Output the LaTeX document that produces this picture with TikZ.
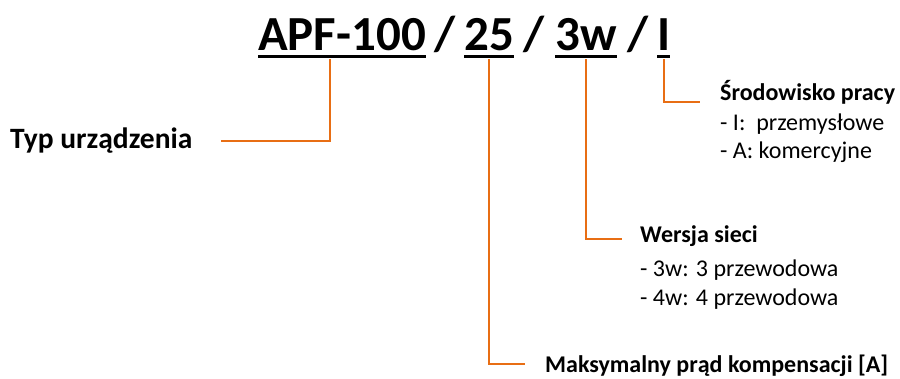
\documentclass[tikz,border=0pt]{standalone}
\usepackage{fontspec}
\setmainfont{Carlito}
\usetikzlibrary{positioning}
\definecolor{leadorange}{RGB}{232,110,20}

\begin{document}
\begin{tikzpicture}[x=1pt, y=-1pt,
	code/.style={inner sep=0pt, anchor=base west, font=\fontsize{49}{50}\selectfont\bfseries},
	head/.style={inner sep=0pt, anchor=base west, font=\fontsize{24}{28}\selectfont\bfseries},
	item/.style={inner sep=0pt, anchor=base west, font=\fontsize{24}{28}\selectfont},
	lead/.style={draw=leadorange, line width=2pt},
	uline/.style={line width=3.5pt}]
	\useasboundingbox (0,0) rectangle (900,378);
	% code parts
	\node[code] (apf) at (258,50) {APF-100};
	\node[code] (sl1) at (434,50) {/};
	\node[code] (amp) at (464,50) {25};
	\node[code] (sl2) at (523,50) {/};
	\node[code] (wire) at (555,50) {3w};
	\node[code] (sl3) at (627,50) {/};
	\node[code] (env) at (657,50) {I};
	\foreach \p in {apf,amp,wire,env}
		\draw[uline] ([yshift=-6.5pt]\p.base west) -- ([yshift=-6.5pt]\p.base east);
	% labels
	\node[head, font=\fontsize{29.5}{32}\selectfont\bfseries] (typ) at (10,148) {Typ urządzenia};
	\node[head] (srod) at (720,100) {Środowisko pracy};
	\node[item] (srod1) at (720,130) {- I:\ \ przemysłowe};
	\node[item] (srod2) at (720,158) {- A: komercyjne};
	\node[head] (wers) at (640,242) {Wersja sieci};
	\node[item] (wers1) at (640,276) {- 3w: 3 przewodowa};
	\node[item] (wers2) at (640,305) {- 4w: 4 przewodowa};
	\node[head] (maks) at (545,372) {Maksymalny prąd kompensacji [A]};
	% leaders
	\draw[lead] ([xshift=-12pt, yshift=-9pt]apf.base) |- ([xshift=28pt, yshift=-1pt]typ.east);
	\draw[lead] ([yshift=-9pt]amp.base) |- ([xshift=-20pt, yshift=1pt]maks.west);
	\draw[lead] ([yshift=-9pt]wire.base) |- ([xshift=-18pt, yshift=-3pt]wers.west);
	\draw[lead] ([yshift=-9pt]env.base) |- ([xshift=-20pt, yshift=-10pt]srod.west);
\end{tikzpicture}
\end{document}
